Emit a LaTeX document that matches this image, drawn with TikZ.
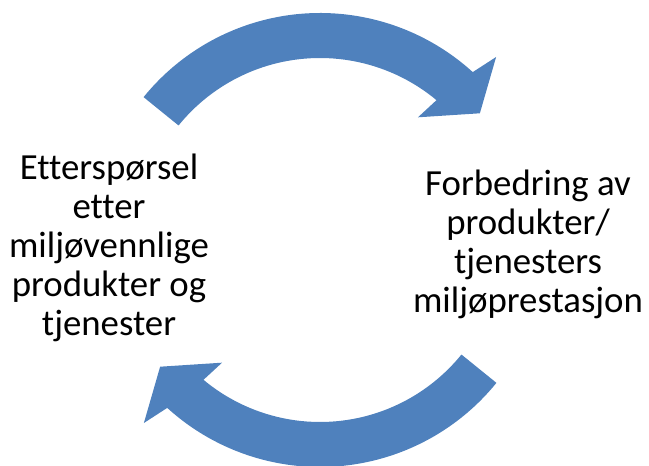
\documentclass[tikz,border=0pt]{standalone}
\usepackage{fontspec}
\setmainfont{Carlito}[Ligatures={NoCommon}]
\usepackage{tikz}
\definecolor{cycleblue}{HTML}{4F81BD}
\tikzset{
  bigarr/.style={fill=cycleblue},
  txt/.style={align=center, inner sep=0pt, font=\fontsize{36.8}{39}\selectfont}
}
\begin{document}
\begin{tikzpicture}[x=1pt,y=1pt]
\useasboundingbox (0,0) rectangle (649,466);
\coordinate (c) at (320,226);
% two curved block arrows, the second turned half a round
\foreach \r in {0,180}
  \fill[bigarr, shift={(c)}] (141+\r:227) arc[start angle=141+\r, end angle=47.7+\r, radius=227]
    -- (46.1+\r:254) -- (38.4+\r:204) -- (51.4+\r:157) -- (50.2+\r:182)
    arc[start angle=50.2+\r, end angle=141+\r, radius=182] -- cycle;
\node[txt] (demand) at (109,218) {Etterspørsel\\etter\\miljøvennlige\\produkter og\\tjenester};
\node[txt] (improve) at (528,221.5) {Forbedring av\\produkter/\\tjenesters\\miljøprestasjon};
\end{tikzpicture}
\end{document}
